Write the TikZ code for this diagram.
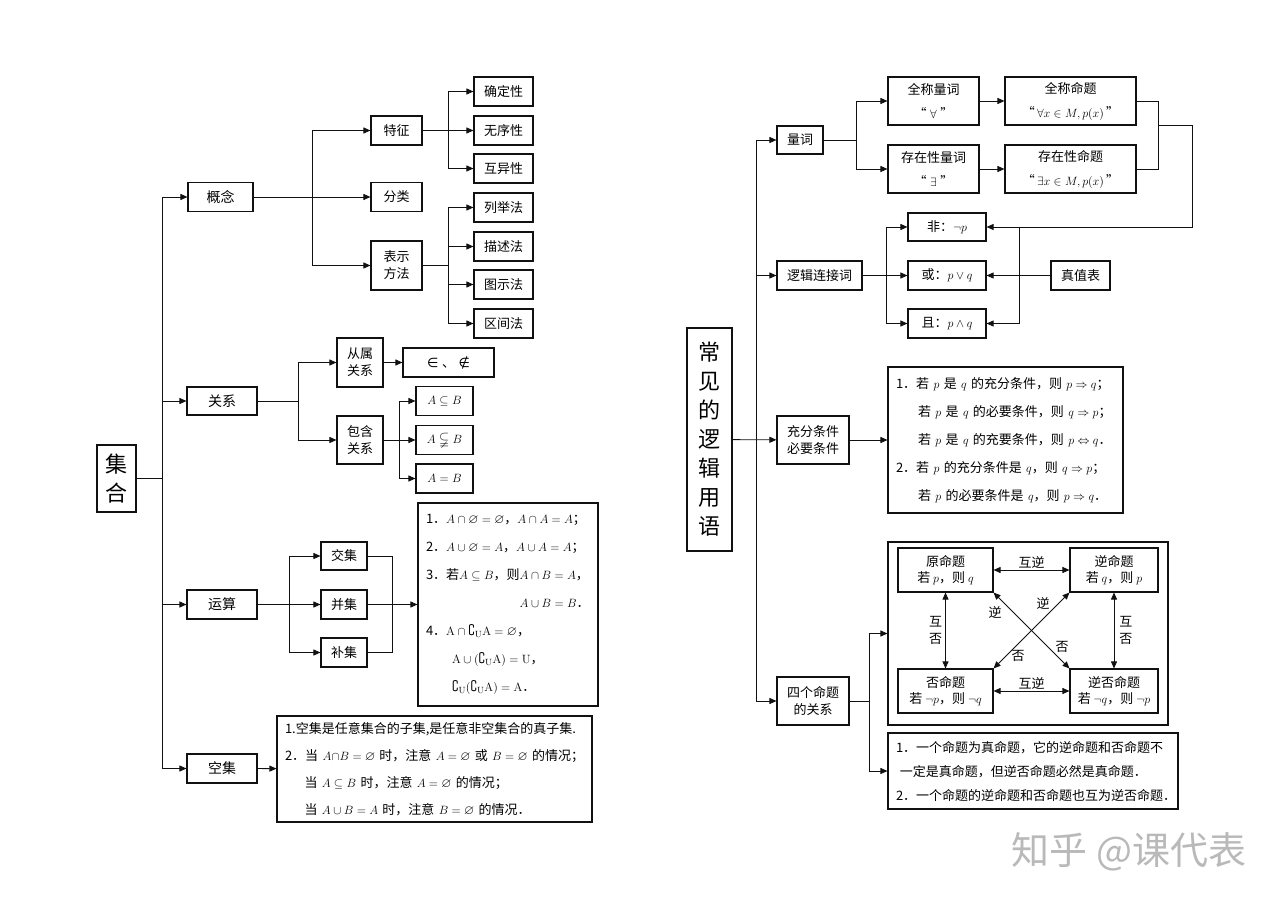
\documentclass[tikz,border=0pt]{standalone}
\usepackage{amsmath,amssymb}
\usepackage[no-math]{fontspec}
\setmainfont{Noto Sans CJK SC}
\newfontfamily\symfont{DejaVu Sans}
\usepackage{tikz}
\usetikzlibrary{arrows.meta,positioning}
\definecolor{ink}{HTML}{111111}
\definecolor{wmark}{HTML}{B9B9B9}

\begin{document}
\begin{tikzpicture}[x=1pt,y=-1pt,
  box/.style={draw=ink,line width=1.1pt,inner sep=0pt,align=center,
              font=\fontsize{13}{17}\selectfont},
  wh/.style 2 args={minimum width=#1pt,minimum height=#2pt},
  note/.style={draw=ink,line width=1.1pt,inner xsep=8pt,inner ysep=0pt,align=left,
               font=\fontsize{13}{28}\selectfont},
  big/.style={font=\fontsize{22}{29}\selectfont},
  lbl/.style={inner sep=0pt,align=center,font=\fontsize{13}{17}\selectfont},
  arr/.style={-{Stealth[length=7pt,width=6pt,inset=0pt]},line width=0.8pt,draw=ink},
  dbl/.style={{Stealth[length=7pt,width=6pt,inset=0pt]}-{Stealth[length=7pt,width=6pt,inset=0pt]},
              line width=0.8pt,draw=ink},
  ln/.style={line width=0.8pt,draw=ink}]
  \fill[white] (0,0) rectangle (1280,904);
  \useasboundingbox (0,0) rectangle (1280,904);

  \node[box,big,wh={39}{67}] (jihe) at (116.5,478.5) {集\\合};
  \node[box,wh={65}{29},font=\fontsize{14}{17}\selectfont] (gainian) at (220.5,197) {概念};
  \node[box,wh={70}{28},font=\fontsize{14}{17}\selectfont] (guanxi) at (222,401) {关系};
  \node[box,wh={70}{29},font=\fontsize{14}{17}\selectfont] (yunsuan) at (222,604.5) {运算};
  \node[box,wh={70}{29},font=\fontsize{14}{17}\selectfont] (kongji) at (222,768.5) {空集};
  \node[box,wh={51}{29}] (tezheng) at (396.5,130.5) {特征};
  \node[box,wh={51}{29}] (fenlei) at (396.5,197) {分类};
  \node[box,wh={51}{49}] (biaoshi) at (396.5,265.5) {表示\\方法};
  \node[box,wh={59}{29}] (queding) at (503.5,91.5) {确定性};
  \node[box,wh={59}{29}] (wuxu) at (503.5,130.5) {无序性};
  \node[box,wh={59}{29}] (huyi) at (503.5,168.5) {互异性};
  \node[box,wh={59}{29}] (lieju) at (503.5,207.5) {列举法};
  \node[box,wh={59}{29}] (miaoshu) at (503.5,246.5) {描述法};
  \node[box,wh={59}{29}] (tushi) at (503.5,284.5) {图示法};
  \node[box,wh={59}{29}] (qujian) at (503.5,323.5) {区间法};
  \node[box,wh={46}{49}] (congshu) at (360,362.5) {从属\\关系};
  \node[box,wh={46}{48}] (baohan) at (360,440) {包含\\关系};
  \node[box,wh={91}{29}] (shuyu) at (448.5,362.5) {{\symfont ∈}\;、\;{\symfont ∉}};
  \node[box,wh={57}{29}] (ziji) at (444.5,401) {$A\subseteq B$};
  \node[box,wh={57}{29}] (zhenzi) at (444.5,440) {$A\subsetneqq B$};
  \node[box,wh={57}{29}] (xiangdeng) at (444.5,478.5) {$A=B$};
  \node[box,wh={46}{28}] (jiaoji) at (344,556) {交集};
  \node[box,wh={46}{29}] (bingji) at (344,604.5) {并集};
  \node[box,wh={46}{29}] (buji) at (344,652.5) {补集};
  \node[note,minimum width=180pt,minimum height=203pt,text width=164pt] (yunlv) at (508,604.5)
       {\mbox{1．$A\cap\varnothing=\varnothing$，$A\cap A=A$；}\\
        \mbox{2．$A\cup\varnothing=A$，$A\cup A=A$；}\\
        \mbox{3．若$A\subseteq B$，则$A\cap B=A$，}\\
        \mbox{\hspace*{7.2em}$A\cup B=B$．}\\
        \mbox{4．$\mathrm{A}\cap\complement_{\mathrm{U}}\mathrm{A}=\varnothing$，}\\
        \mbox{\hspace*{2em}$\mathrm{A}\cup(\complement_{\mathrm{U}}\mathrm{A})=\mathrm{U}$，}\\
        \mbox{\hspace*{2em}$\complement_{\mathrm{U}}(\complement_{\mathrm{U}}\mathrm{A})=\mathrm{A}$．}};
  \node[note,minimum width=315pt,minimum height=106pt,text width=299pt,
        font=\fontsize{13}{27}\selectfont] (kongzhu) at (434.5,769)
       {1.空集是任意集合的子集,是任意非空集合的真子集.\\
        2．当 $A\cap B=\varnothing$ 时，注意 $A=\varnothing$ 或 $B=\varnothing$ 的情况；\\
        \hspace*{1.5em}当 $A\subseteq B$ 时，注意 $A=\varnothing$ 的情况；\\
        \hspace*{1.5em}当 $A\cup B=A$ 时，注意 $B=\varnothing$ 的情况．};

  \coordinate (t1) at (162,478.5);
  \draw[ln] (jihe) -- (t1);
  \draw[arr] (t1) |- (gainian);
  \draw[arr] (t1) |- (guanxi);
  \draw[arr] (t1) |- (yunsuan);
  \draw[arr] (t1) |- (kongji);
  \coordinate (c1) at (312,197);
  \draw[arr] (gainian) -- (fenlei);
  \draw[arr] (c1) |- (tezheng);
  \draw[arr] (c1) |- (biaoshi);
  \coordinate (c2) at (448,130.5);
  \draw[arr] (tezheng) -- (wuxu);
  \draw[arr] (c2) |- (queding);
  \draw[arr] (c2) |- (huyi);
  \coordinate (c3) at (448,265.5);
  \draw[ln] (biaoshi) -- (c3);
  \draw[arr] (c3) |- (lieju);
  \draw[arr] (c3) |- (miaoshu);
  \draw[arr] (c3) |- (tushi);
  \draw[arr] (c3) |- (qujian);
  \coordinate (c4) at (298,401);
  \draw[ln] (guanxi) -- (c4);
  \draw[arr] (c4) |- (congshu);
  \draw[arr] (c4) |- (baohan);
  \draw[arr] (congshu) -- (shuyu);
  \coordinate (c5) at (399,440);
  \draw[arr] (baohan) -- (zhenzi);
  \draw[arr] (c5) |- (ziji);
  \draw[arr] (c5) |- (xiangdeng);
  \coordinate (c6) at (289,604.5);
  \draw[arr] (yunsuan) -- (bingji);
  \draw[arr] (c6) |- (jiaoji);
  \draw[arr] (c6) |- (buji);
  \coordinate (c7) at (392,604.5);
  \draw[ln] (jiaoji) -| (c7);
  \draw[ln] (buji) -| (c7);
  \draw[arr] (bingji) -- (yunlv);
  \draw[arr] (kongji) -- (kongzhu);

  \node[box,big,wh={45}{223}] (changjian) at (709.5,439.5) {常\\见\\的\\逻\\辑\\用\\语};
  \node[box,wh={46}{28}] (liangci) at (800,140) {量词};
  \node[box,wh={91}{48},font=\fontsize{13}{24}\selectfont] (quanliang) at (933.5,101)
       {全称量词\\“\;$\forall$\;”};
  \node[box,wh={91}{48},font=\fontsize{13}{24}\selectfont] (cunliang) at (933.5,169)
       {存在性量词\\“\;$\exists$\;”};
  \node[box,wh={131}{48},font=\fontsize{13}{24}\selectfont] (quanming) at (1070.5,101)
       {全称命题\\“\,$\forall x\in M,p(x)$\,”};
  \node[box,wh={131}{48},font=\fontsize{13}{24}\selectfont] (cunming) at (1070.5,169)
       {存在性命题\\“\,$\exists x\in M,p(x)$\,”};
  \node[box,wh={85}{29}] (lianjie) at (819.5,275.5) {逻辑连接词};
  \node[box,wh={78}{28}] (fei) at (947,227) {非：$\neg p$};
  \node[box,wh={78}{29}] (huo) at (947,275.5) {或：$p\vee q$};
  \node[box,wh={78}{29}] (qie) at (947,323.5) {且：$p\wedge q$};
  \node[box,wh={59}{29}] (zhenzhi) at (1080.5,275.5) {真值表};
  \node[box,wh={72}{48}] (chongfen) at (813,440) {充分条件\\必要条件};
  \node[note,minimum width=235pt,minimum height=146pt,text width=219pt] (tiaojian) at (1005.5,440)
       {1．若 $p$ 是 $q$ 的充分条件，则 $p\Rightarrow q$；\\
        \hspace*{1.7em}若 $p$ 是 $q$ 的必要条件，则 $q\Rightarrow p$；\\
        \hspace*{1.7em}若 $p$ 是 $q$ 的充要条件，则 $p\Leftrightarrow q$．\\
        2．若 $p$ 的充分条件是 $q$，则 $q\Rightarrow p$；\\
        \hspace*{1.7em}若 $p$ 的必要条件是 $q$，则 $p\Rightarrow q$．};
  \node[box,wh={72}{48}] (sige) at (813,701) {四个命题\\的关系};
  \node[box,wh={280}{183}] (siguan) at (1028,633.5) {};
  \node[box,wh={95}{44},font=\fontsize{13}{16}\selectfont] (yuan) at (945.5,570)
       {原命题\\若 $p$，则 $q$};
  \node[box,wh={88}{44},font=\fontsize{13}{16}\selectfont] (ni) at (1114,570)
       {逆命题\\若 $q$，则 $p$};
  \node[box,wh={95}{44},font=\fontsize{13}{16}\selectfont] (fou) at (945.5,691)
       {否命题\\若 $\neg p$，则 $\neg q$};
  \node[box,wh={88}{44},font=\fontsize{13}{16}\selectfont] (nifou) at (1114,691)
       {逆否命题\\若 $\neg q$，则 $\neg p$};
  \node[note,minimum width=290pt,minimum height=76pt,text width=274pt,
        font=\fontsize{13}{24}\selectfont] (shuoming) at (1033,771)
       {1．一个命题为真命题，它的逆命题和否命题不\\
        \hspace*{0.3em}一定是真命题，但逆否命题必然是真命题．\\
        2．一个命题的逆命题和否命题也互为逆否命题．};

  \coordinate (r1) at (756,439.5);
  \draw[arr] (changjian) -- (chongfen);
  \draw[arr] (r1) |- (liangci);
  \draw[arr] (r1) |- (lianjie);
  \draw[arr] (r1) |- (sige);
  \coordinate (q1) at (856,140);
  \draw[ln] (liangci) -- (q1);
  \draw[arr] (q1) |- (quanliang);
  \draw[arr] (q1) |- (cunliang);
  \draw[arr] (quanliang) -- (quanming);
  \draw[arr] (cunliang) -- (cunming);
  \coordinate (q2) at (1158,125);
  \coordinate (q3) at (1192,227);
  \draw[ln] (quanming) -| (q2);
  \draw[ln] (cunming) -| (q2);
  \draw[arr] (q2) -| (q3) -- (fei);
  \coordinate (l1) at (886,275.5);
  \draw[arr] (lianjie) -- (huo);
  \draw[arr] (l1) |- (fei);
  \draw[arr] (l1) |- (qie);
  \coordinate (l2) at (1019,227);
  \draw[arr] (l2) |- (qie);
  \draw[arr] (zhenzhi) -- (huo);
  \draw[arr] (chongfen) -- (tiaojian);
  \coordinate (s1) at (869,701);
  \draw[ln] (sige) -- (s1);
  \draw[arr] (s1) |- (siguan);
  \draw[arr] (s1) |- (shuoming);
  \draw[dbl] (yuan) -- node[lbl,above=1pt] (hn1) {互逆} (ni);
  \draw[dbl] (fou) -- node[lbl,above=1pt] (hn2) {互逆} (nifou);
  \draw[dbl] (yuan) -- node[lbl,left=3pt] (hf1) {互\\否} (fou);
  \draw[dbl] (ni) -- node[lbl,right=5pt] (hf2) {互\\否} (nifou);
  \draw[dbl] (yuan.south east) -- (nifou.north west);
  \draw[dbl] (fou.north east) -- (ni.south west);
  \node[lbl] (dn1) at (995,612) {逆};
  \node[lbl] (dn2) at (1043,603) {逆};
  \node[lbl] (df1) at (1062,647) {否};
  \node[lbl] (df2) at (1018,656) {否};

  \node[text=wmark,font=\fontsize{38}{38}\selectfont] (zhihu) at (1129,852) {知乎 @课代表};
\end{tikzpicture}
\end{document}
